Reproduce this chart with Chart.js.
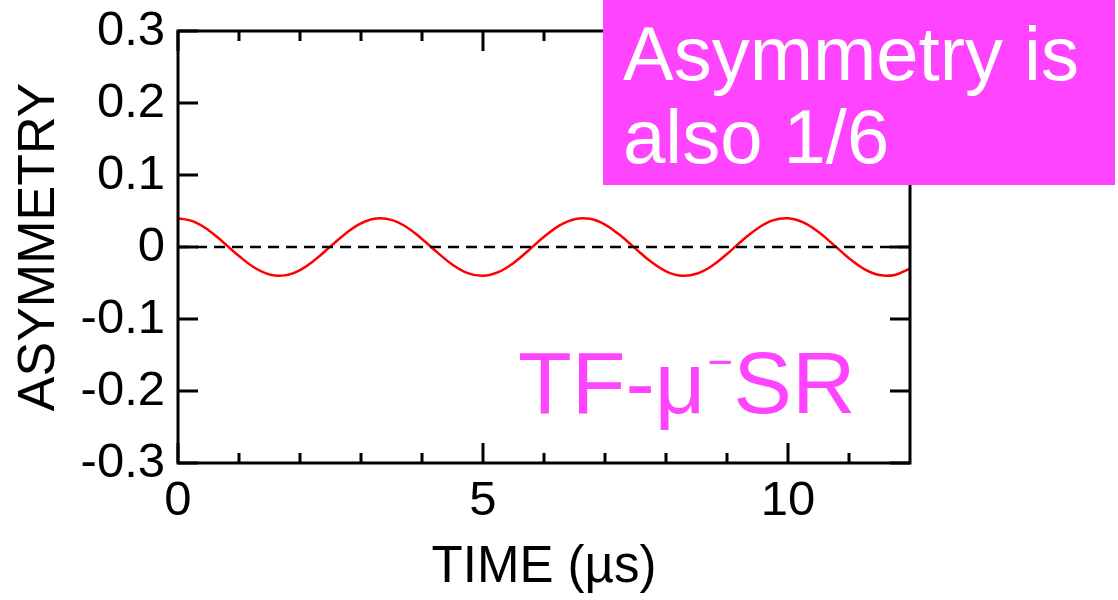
<!DOCTYPE html>
<html>
<head>
<meta charset="utf-8">
<title>TF-muSR asymmetry</title>
<script src="https://cdn.jsdelivr.net/npm/chart.js@4.4.1/dist/chart.umd.min.js"></script>
<style>
  html, body { margin: 0; padding: 0; background: #fff; }
  #wrap { width: 1118px; height: 600px; position: relative; }
</style>
</head>
<body>
<div id="wrap"><canvas id="asymchart"></canvas></div>
<script>
// time axis (µs) and asymmetry
var timeValues = [0, 0.25, 0.5, 0.75, 1, 1.25, 1.5, 1.75, 2, 2.25, 2.5, 2.75, 3, 3.25, 3.5, 3.75,
    4, 4.25, 4.5, 4.75, 5, 5.25, 5.5, 5.75, 6, 6.25, 6.5, 6.75, 7, 7.25, 7.5, 7.75,
    8, 8.25, 8.5, 8.75, 9, 9.25, 9.5, 9.75, 10, 10.25, 10.5, 10.75, 11, 11.25, 11.5, 11.75, 12];
var asymValues = [0.040, 0.0356, 0.0234, 0.0060, -0.0126, -0.0285, -0.0382, -0.0394, -0.0320, -0.0175, 0.0008, 0.0189, 0.0329, 0.0396, 0.0377, 0.0275,
    0.0112, -0.0075, -0.0246, -0.0363, -0.0400, -0.0349, -0.0221, -0.0045, 0.0141, 0.0296, 0.0386, 0.0391, 0.0311, 0.0162, -0.0023, -0.0202,
    -0.0337, -0.0398, -0.0372, -0.0264, -0.0098, 0.0090, 0.0258, 0.0369, 0.0399, 0.0341, 0.0208, 0.0030, -0.0155, -0.0306, -0.0390, -0.0388, -0.0300];
var zeroLineX = [0, 12];
var zeroLineY = [0, 0];

var xTickValues = [0, 5, 10];
var xTickLabels = ['0', '5', '10'];
var xMinorValues = [1, 2, 3, 4, 6, 7, 8, 9, 11];
var yTickValues = [-0.3, -0.2, -0.1, 0, 0.1, 0.2, 0.3];
var yTickLabels = ['-0.3', '-0.2', '-0.1', '0', '0.1', '0.2', '0.3'];

var PINK = '#ff44ff';
var FONT = "'Liberation Sans', Arial, Helvetica, sans-serif";

var curve = timeValues.map(function(t, i) { return {x: t, y: asymValues[i]}; });
var zero = zeroLineX.map(function(t, i) { return {x: t, y: zeroLineY[i]}; });

// frame with inward ticks, like the original plot
var framePlugin = {
    id: 'frame',
    afterDatasetsDraw: function(chart) {
        var ctx = chart.ctx;
        var a = chart.chartArea;
        var xs = chart.scales.x, ys = chart.scales.y;
        ctx.save();
        ctx.strokeStyle = '#000';
        ctx.lineWidth = 3;
        ctx.strokeRect(a.left, a.top, a.right - a.left, a.bottom - a.top);
        ctx.beginPath();
        xTickValues.forEach(function(v) {
            var px = xs.getPixelForValue(v);
            ctx.moveTo(px, a.bottom); ctx.lineTo(px, a.bottom - 20);
            ctx.moveTo(px, a.top); ctx.lineTo(px, a.top + 20);
        });
        xMinorValues.forEach(function(v) {
            var px = xs.getPixelForValue(v);
            ctx.moveTo(px, a.bottom); ctx.lineTo(px, a.bottom - 10);
            ctx.moveTo(px, a.top); ctx.lineTo(px, a.top + 10);
        });
        yTickValues.forEach(function(v) {
            var py = ys.getPixelForValue(v);
            ctx.moveTo(a.left, py); ctx.lineTo(a.left + 20, py);
            ctx.moveTo(a.right, py); ctx.lineTo(a.right - 20, py);
        });
        ctx.stroke();
        ctx.restore();
    },
    afterDraw: function(chart) {
        var ctx = chart.ctx;
        ctx.save();
        // note box, top right
        ctx.fillStyle = PINK;
        ctx.fillRect(603, 0, 512, 185);
        ctx.fillStyle = '#fff';
        ctx.font = '76px ' + FONT;
        ctx.textBaseline = 'alphabetic';
        ctx.fillText('Asymmetry is', 623, 80);
        ctx.fillText('also 1/6', 623, 163);

        // TF-mu^-SR label
        ctx.fillStyle = PINK;
        ctx.font = '88px ' + FONT;
        var x = 518, base = 413;
        ctx.fillText('TF-\u03bc', x, base);
        x += ctx.measureText('TF-\u03bc').width + 2;
        ctx.font = '44px ' + FONT;
        ctx.fillText('\u2212', x, base - 36);
        x += ctx.measureText('\u2212').width;
        ctx.font = '88px ' + FONT;
        ctx.fillText('SR', x, base);
        ctx.restore();
    }
};

var chart = new Chart(document.getElementById('asymchart'), {
    type: 'line',
    data: {
        datasets: [{
            data: zero,
            borderColor: '#000',
            borderWidth: 2.5,
            borderDash: [11, 7],
            pointRadius: 0,
            tension: 0
        }, {
            data: curve,
            borderColor: '#ff0000',
            borderWidth: 2.5,
            pointRadius: 0,
            tension: 0.4
        }]
    },
    plugins: [framePlugin],
    options: {
        responsive: true,
        maintainAspectRatio: false,
        animation: false,
        layout: {
            padding: {left: 0, top: 31, right: 208, bottom: 0}
        },
        plugins: {
            legend: {display: false},
            tooltip: {enabled: false}
        },
        scales: {
            x: {
                type: 'linear',
                min: 0,
                max: 12,
                afterBuildTicks: function(scale) {
                    scale.ticks = xTickValues.map(function(v) { return {value: v}; });
                },
                afterFit: function(scale) {
                    scale.height = 137;
                    scale.paddingLeft = 0;
                    scale.paddingRight = 0;
                },
                grid: {display: false, drawTicks: false},
                border: {display: false},
                ticks: {
                    padding: 9,
                    color: '#000',
                    font: {family: FONT, size: 49},
                    maxRotation: 0,
                    callback: function(v, i) { return xTickLabels[i]; }
                },
                title: {
                    display: true,
                    text: 'TIME (\u00b5s)',
                    color: '#000',
                    font: {family: FONT, size: 51},
                    padding: {top: 0, bottom: 1}
                }
            },
            y: {
                type: 'linear',
                min: -0.3,
                max: 0.3,
                afterBuildTicks: function(scale) {
                    scale.ticks = yTickValues.map(function(v) { return {value: v}; });
                },
                afterFit: function(scale) {
                    scale.width = 178;
                    scale.paddingTop = 0;
                    scale.paddingBottom = 0;
                },
                grid: {display: false, drawTicks: false},
                border: {display: false},
                ticks: {
                    padding: 13,
                    color: '#000',
                    font: {family: FONT, size: 49},
                    callback: function(v, i) { return yTickLabels[i]; }
                },
                title: {
                    display: true,
                    text: 'ASYMMETRY',
                    color: '#000',
                    font: {family: FONT, size: 52},
                    padding: {top: 8, bottom: 0}
                }
            }
        }
    }
});
</script>
</body>
</html>
